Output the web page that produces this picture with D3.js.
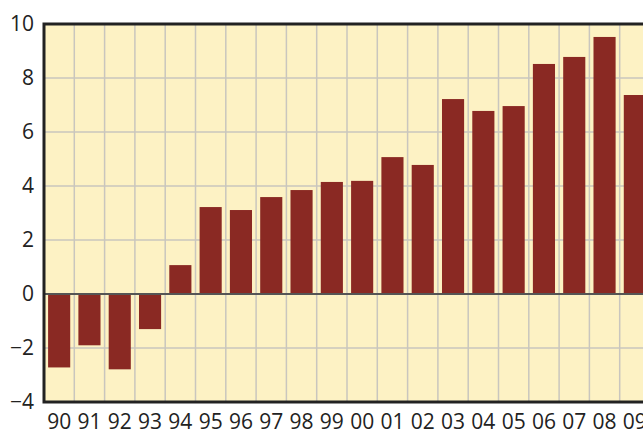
<!DOCTYPE html>
<html>
<head>
<meta charset="utf-8">
<script src="https://cdn.jsdelivr.net/npm/d3@7"></script>
<style>
  html, body { margin: 0; padding: 0; background: #fff; }
  svg { display: block; }
  text { font-family: "Open Sans", sans-serif; }
</style>
</head>
<body>
<svg id="chart" width="643" height="434"></svg>
<script>
const categories = ["90","91","92","93","94","95","96","97","98","99","00","01","02","03","04","05","06","07","08","09"];
const values = [-2.72,-1.9,-2.79,-1.3,1.07,3.22,3.11,3.59,3.85,4.15,4.19,5.07,4.78,7.22,6.78,6.96,8.52,8.78,9.52,7.37];
const yTicks = [-4,-2,0,2,4,6,8,10];
const titleText = "Per cent of GDP";

(function () {
const svg = d3.select("#chart");
const mLeft = 44, mTop = 24, mBottom = 402, mRight = 650;

const x = d3.scaleBand().domain(categories).range([mLeft, mRight]).paddingInner(0.27).paddingOuter(0.135);
const y = d3.scaleLinear().domain([-4, 10]).range([mBottom, mTop]);
const step = x.step();

// title (almost entirely clipped at the top edge, as in the reference)
svg.append("text").attr("x", 70).attr("y", -2.5).attr("font-size", 21).attr("fill", "#aaa").text(titleText);

// background
svg.append("rect").attr("x", mLeft).attr("y", mTop).attr("width", mRight - mLeft).attr("height", mBottom - mTop).attr("fill", "#FDF2C4");

// gridlines
const g = svg.append("g");
g.selectAll("line.h").data(yTicks.filter(d => d !== 0 && d !== -4 && d !== 10)).join("line")
  .attr("x1", mLeft).attr("x2", mRight).attr("y1", d => y(d)).attr("y2", d => y(d))
  .attr("stroke", "#C9C6BE").attr("stroke-width", 1.5);
g.selectAll("line.v").data(categories.slice(1)).join("line")
  .attr("x1", d => x(d) - step * x.paddingInner() / 2).attr("x2", d => x(d) - step * x.paddingInner() / 2)
  .attr("y1", mTop).attr("y2", mBottom)
  .attr("stroke", "#C9C6BE").attr("stroke-width", 1.5);

// bars
svg.selectAll("rect.bar").data(values).join("rect").attr("class", "bar")
  .attr("x", (d, i) => x(categories[i]))
  .attr("width", x.bandwidth())
  .attr("y", d => y(Math.max(0, d)))
  .attr("height", d => Math.abs(y(d) - y(0)))
  .attr("fill", "#8A2923");

// zero line
svg.append("line").attr("x1", mLeft).attr("x2", mRight).attr("y1", y(0)).attr("y2", y(0))
  .attr("stroke", "#555").attr("stroke-width", 2);

// frame
svg.append("path").attr("d", `M${mRight},${mTop}H${mLeft}V${mBottom}H${mRight}`)
  .attr("fill", "none").attr("stroke", "#222").attr("stroke-width", 3);

// y axis
const yAxis = d3.axisLeft(y).tickValues(yTicks).tickSize(0).tickPadding(9);
const ya = svg.append("g").attr("transform", `translate(${mLeft - 1},0)`).call(yAxis);
ya.select(".domain").remove();
ya.selectAll("text").attr("font-size", 21).attr("fill", "#222").attr("font-family", "Open Sans, sans-serif");

// x axis
const xAxis = d3.axisBottom(x).tickSize(0).tickPadding(12);
const xa = svg.append("g").attr("transform", `translate(0,${mBottom})`).call(xAxis);
xa.select(".domain").remove();
xa.selectAll("text").attr("font-size", 21).attr("fill", "#222").attr("font-family", "Open Sans, sans-serif");
})();
</script>
</body>
</html>
